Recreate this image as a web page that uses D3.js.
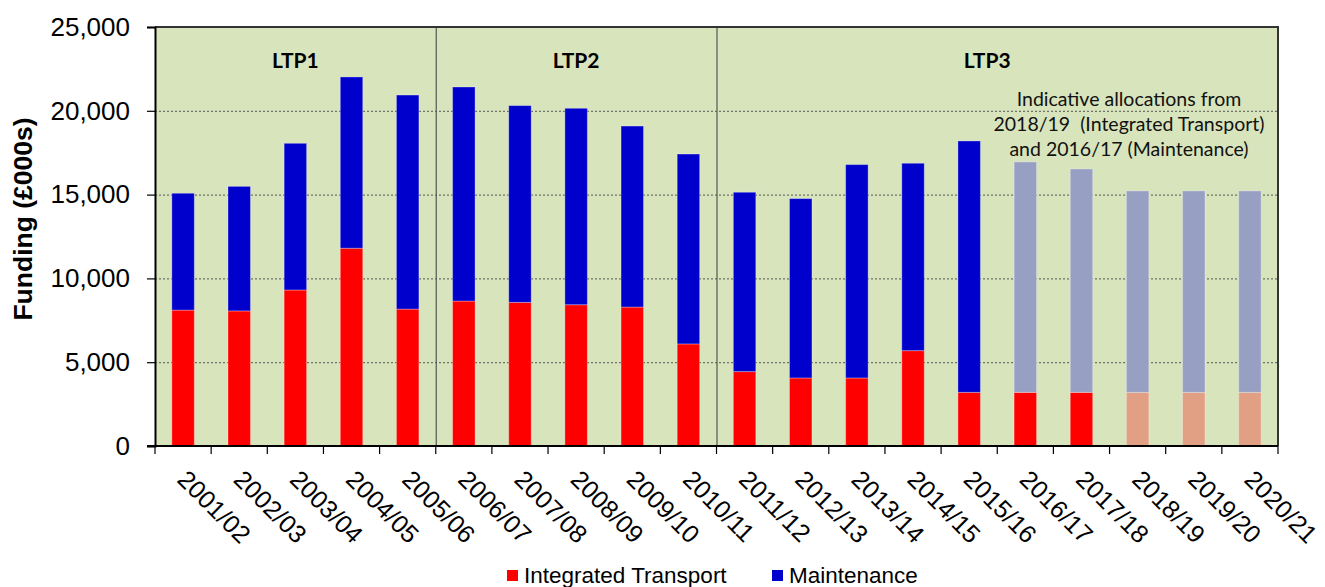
<!DOCTYPE html>
<html>
<head>
<meta charset="utf-8">
<script src="https://cdn.jsdelivr.net/npm/d3@7"></script>
<style>
  html, body { margin: 0; padding: 0; background: #ffffff; }
  svg { display: block; }
</style>
</head>
<body>
<svg id="chart" width="1325" height="587"></svg>
<script>
// Local transport funding by financial year (£000s)
const years = ["2001/02", "2002/03", "2003/04", "2004/05", "2005/06", "2006/07", "2007/08",
  "2008/09", "2009/10", "2010/11", "2011/12", "2012/13", "2013/14", "2014/15", "2015/16",
  "2016/17", "2017/18", "2018/19", "2019/20", "2020/21"];
const integratedTransport = [8110, 8060, 9310, 11800, 8170, 8650, 8570, 8430, 8290, 6090,
  4440, 4060, 4060, 5690, 3200, 3200, 3200, 3200, 3200, 3200];
const maintenance = [6970, 7430, 8750, 10220, 12770, 12770, 11740, 11720, 10800, 11330,
  10700, 10700, 12730, 11180, 15000, 13750, 13330, 12020, 12020, 12020];
// First year for which each series is an indicative allocation
const integratedIndicativeFrom = "2018/19";
const maintenanceIndicativeFrom = "2016/17";
// Local Transport Plan periods
const planLabels = ["LTP1", "LTP2", "LTP3"];
const planStarts = ["2001/02", "2006/07", "2011/12"];
const planEnds = ["2005/06", "2010/11", "2020/21"];
const yTicks = [0, 5000, 10000, 15000, 20000, 25000];
const noteLines = ["Indicative allocations from", "2018/19  (Integrated Transport)", "and 2016/17 (Maintenance)"];

const svg = d3.select("#chart");
const margin = { left: 155, right: 1278, top: 27, bottom: 446 };

const x = d3.scaleBand().domain(years).range([margin.left, margin.right]).paddingInner(0.6).paddingOuter(0.3);
const band = d3.scaleBand().domain(years).range([margin.left, margin.right]).padding(0);
const y = d3.scaleLinear().domain([0, 25000]).range([margin.bottom, margin.top]);

const colors = {
  it: "#ff0000", itFaded: "#e19f84",
  mt: "#0000cc", mtFaded: "#97a0c3"
};

// plot background
svg.append("rect")
  .attr("x", margin.left).attr("y", margin.top)
  .attr("width", margin.right - margin.left).attr("height", margin.bottom - margin.top)
  .attr("fill", "#d8e4bc");

// horizontal gridlines
svg.append("g").selectAll("line")
  .data(yTicks.filter(d => d > 0 && d < 25000))
  .join("line")
  .attr("x1", margin.left).attr("x2", margin.right)
  .attr("y1", d => y(d) + 0.5).attr("y2", d => y(d) + 0.5)
  .attr("stroke", "#555").attr("stroke-width", 1).attr("stroke-dasharray", "2,2");

// stacked bars
const stack = years.map((yr, i) => ({
  year: yr,
  it: integratedTransport[i],
  mt: maintenance[i],
  itInd: years.indexOf(yr) >= years.indexOf(integratedIndicativeFrom),
  mtInd: years.indexOf(yr) >= years.indexOf(maintenanceIndicativeFrom)
}));

const bars = svg.append("g");
bars.selectAll("rect.it")
  .data(stack).join("rect").attr("class", "it")
  .attr("x", d => x(d.year)).attr("width", x.bandwidth())
  .attr("y", d => y(d.it)).attr("height", d => y(0) - y(d.it))
  .attr("fill", d => d.itInd ? colors.itFaded : colors.it)
  .attr("stroke", "rgba(255,255,255,0.3)").attr("stroke-width", 1);
bars.selectAll("rect.mt")
  .data(stack).join("rect").attr("class", "mt")
  .attr("x", d => x(d.year)).attr("width", x.bandwidth())
  .attr("y", d => y(d.it + d.mt)).attr("height", d => y(d.it) - y(d.it + d.mt))
  .attr("fill", d => d.mtInd ? colors.mtFaded : colors.mt)
  .attr("stroke", "rgba(255,255,255,0.3)").attr("stroke-width", 1);

// period separators
svg.append("g").selectAll("line")
  .data(planStarts.slice(1))
  .join("line")
  .attr("x1", d => band(d) + 0.5).attr("x2", d => band(d) + 0.5)
  .attr("y1", margin.top).attr("y2", margin.bottom)
  .attr("stroke", "#555").attr("stroke-width", 1.2);

// period labels
svg.append("g").selectAll("text")
  .data(planLabels)
  .join("text")
  .attr("x", (d, i) => (band(planStarts[i]) + band(planEnds[i]) + band.bandwidth()) / 2 - (i === 2 ? 10 : 0))
  .attr("y", 68)
  .attr("text-anchor", "middle")
  .attr("font-family", "Lato, 'Open Sans', sans-serif")
  .attr("font-weight", "bold").attr("font-size", 21)
  .attr("fill", "#000")
  .text(d => d);

// note about indicative allocations
svg.append("g").selectAll("text")
  .data(noteLines)
  .join("text")
  .attr("x", 1129)
  .attr("y", (d, i) => 106 + i * 25)
  .attr("text-anchor", "middle")
  .attr("font-family", "Lato, 'Open Sans', sans-serif")
  .attr("font-size", 19.5)
  .attr("fill", "#111")
  .style("white-space", "pre")
  .attr("xml:space", "preserve")
  .text(d => d);

// plot frame: top and right
svg.append("path")
  .attr("d", `M${margin.left},${margin.top}H${margin.right}V${margin.bottom}`)
  .attr("fill", "none").attr("stroke", "#333").attr("stroke-width", 2);

// y axis
const yAxis = svg.append("g")
  .attr("transform", `translate(${margin.left},0)`)
  .call(d3.axisLeft(y).tickValues(yTicks).tickSize(8).tickPadding(17).tickFormat(d3.format(",")));
yAxis.select(".domain").attr("stroke", "#000").attr("stroke-width", 2);
yAxis.selectAll(".tick line").attr("stroke", "#000").attr("stroke-width", 1.2);
yAxis.selectAll(".tick text")
  .attr("font-family", "'Liberation Sans', Arial, sans-serif")
  .attr("font-size", 26).attr("fill", "#000");

// x axis with ticks at band edges
const edges = years.map(d => band(d)).concat([margin.right]);
const xAxis = svg.append("g");
xAxis.append("line")
  .attr("x1", margin.left - 8).attr("x2", margin.right)
  .attr("y1", margin.bottom).attr("y2", margin.bottom)
  .attr("stroke", "#000").attr("stroke-width", 2);
xAxis.selectAll("line.tick")
  .data(edges).join("line").attr("class", "tick")
  .attr("x1", d => d).attr("x2", d => d)
  .attr("y1", margin.bottom).attr("y2", margin.bottom + 8)
  .attr("stroke", "#000").attr("stroke-width", 1.2);
xAxis.selectAll("text")
  .data(years).join("text")
  .attr("transform", d => `translate(${band(d) + band.bandwidth() / 2 - 7},481) rotate(45)`)
  .attr("text-anchor", "start")
  .attr("font-family", "'Liberation Sans', Arial, sans-serif")
  .attr("font-size", 25).attr("fill", "#000")
  .text(d => d);

// y axis title
svg.append("text")
  .attr("transform", "translate(32,219) rotate(-90)")
  .attr("text-anchor", "middle")
  .attr("font-family", "'Liberation Sans', Arial, sans-serif")
  .attr("font-weight", "bold").attr("font-size", 26.5)
  .attr("fill", "#000")
  .text("Funding (£000s)");

// legend
const legendItems = [
  { label: "Integrated Transport", color: colors.it, x: 507 },
  { label: "Maintenance", color: colors.mt, x: 772 }
];
const legend = svg.append("g").selectAll("g").data(legendItems).join("g")
  .attr("transform", d => `translate(${d.x},570)`);
legend.append("rect").attr("width", 11).attr("height", 11).attr("fill", d => d.color);
legend.append("text")
  .attr("x", 17).attr("y", 13)
  .attr("font-family", "'Liberation Sans', Arial, sans-serif")
  .attr("font-size", 22.5).attr("fill", "#000")
  .text(d => d.label);
</script>
</body>
</html>
